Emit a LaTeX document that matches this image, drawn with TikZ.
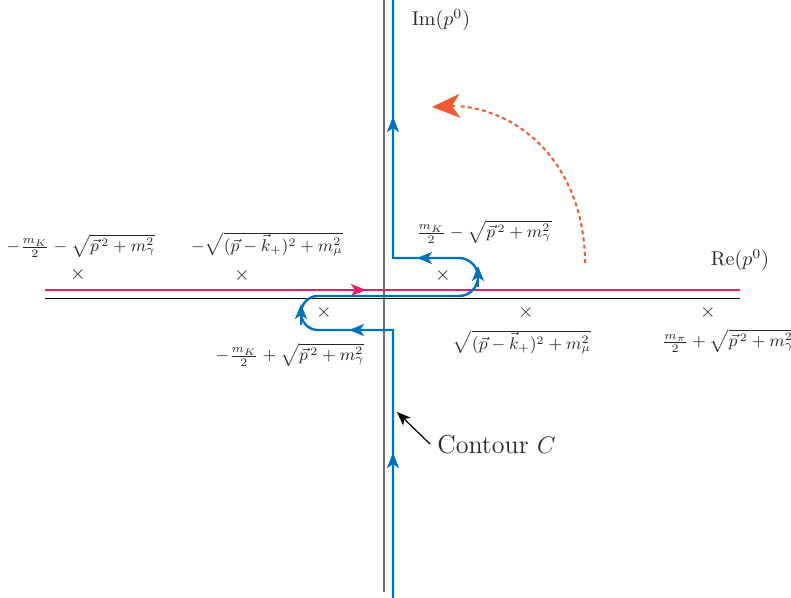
\documentclass[tikz,border=0pt]{standalone}
\usetikzlibrary{arrows.meta}
\definecolor{cblue}{RGB}{0,114,189}
\definecolor{cmag}{RGB}{232,30,100}
\definecolor{corange}{RGB}{240,90,50}
\definecolor{ctext}{RGB}{40,40,40}
\newcommand{\lblsize}[1]{\scalebox{0.95}{\small #1}}
\tikzset{
  contour/.style={draw=cblue, line width=1.2pt},
  ctip/.style={cblue, line width=1.2pt, -{Stealth[length=7.5pt,width=6pt,inset=2pt]}},
  polemark/.style={inner sep=0pt, text=ctext, font=\normalsize},
  lbl/.style={inner sep=0pt, text=ctext},
  axislbl/.style={inner sep=0pt, text=ctext, font=\normalsize},
}
\begin{document}
\begin{tikzpicture}[x=0.5pt,y=-0.5pt]
\useasboundingbox (0,0) rectangle (791,598);
% axes
\draw[gray!85!black, line width=0.9pt] (384,0) -- (384,592);
\draw[black, line width=0.5pt] (45,299) -- (740,299);
% real line contour (magenta)
\draw[cmag, line width=1.2pt] (45,290) -- (740,290);
\draw[cmag, line width=1.2pt, -{Stealth[length=7.5pt,width=6pt,inset=2pt]}] (340,290) -- (366,290);
% blue contour
\draw[contour] (393,598) -- (393,330) -- (340,330) [rounded corners=8.5pt] -- (301,330) -- (301,296) -- (400,296) [rounded corners=9.5pt] -- (478,296) -- (478,258) -- (440,258) [sharp corners] -- (393,258) -- (393,0);
\draw[ctip] (393,475) -- (393,453);
\draw[ctip] (370,330) -- (349,330);
\draw[ctip] (301,325) -- (301,304);
\draw[ctip] (478,287) -- (478,266);
\draw[ctip] (440,258) -- (417,258);
\draw[ctip] (393,140) -- (393,117);
% orange rotation arrow
\draw[corange, line width=1pt, dash pattern=on 2pt off 1.6pt] (585,263) .. controls (585,175) and (530,112) .. (458,106);
\draw[corange, line width=1pt, -{Stealth[length=14pt,width=12pt,inset=4pt]}] (455,106) -- (432,107);
% poles
\node[polemark] (x1) at (78,275) {$\times$};
\node[polemark] (x2) at (242,276) {$\times$};
\node[polemark] (x3) at (443,276) {$\times$};
\node[polemark] (x4) at (324,312) {$\times$};
\node[polemark] (x5) at (526,312) {$\times$};
\node[polemark] (x6) at (708,312) {$\times$};
% labels
\node[lbl] (l1) at (81,246) {\lblsize{$-\frac{m_K}{2}-\sqrt{\vec{p}^{\,2}+m_\gamma^2}$}};
\node[lbl] (l2) at (267,244) {\lblsize{$-\sqrt{(\vec{p}-\vec{k}_+)^2+m_\mu^2}$}};
\node[lbl] (l3) at (484,232) {\lblsize{$\frac{m_K}{2}-\sqrt{\vec{p}^{\,2}+m_\gamma^2}$}};
\node[lbl] (l4) at (290,355) {\lblsize{$-\frac{m_K}{2}+\sqrt{\vec{p}^{\,2}+m_\gamma^2}$}};
\node[lbl] (l5) at (522,342) {\lblsize{$\sqrt{(\vec{p}-\vec{k}_+)^2+m_\mu^2}$}};
\node[lbl] (l6) at (728,341) {\lblsize{$\frac{m_\pi}{2}+\sqrt{\vec{p}^{\,2}+m_\gamma^2}$}};
% axis labels
\node[axislbl] (im) at (441,20) {$\mathrm{Im}(p^0)$};
\node[axislbl] (re) at (740,260) {$\mathrm{Re}(p^0)$};
% contour label
\node[inner sep=0pt, text=ctext, font=\fontsize{13}{15}\selectfont, anchor=west] (cc) at (437,445) {Contour $C$};
\coordinate (ct) at (397,412);
\draw[black, line width=0.6pt, -{Stealth[length=7pt,width=5.5pt,inset=2pt]}] (430,444) -- (ct);
\end{tikzpicture}
\end{document}
